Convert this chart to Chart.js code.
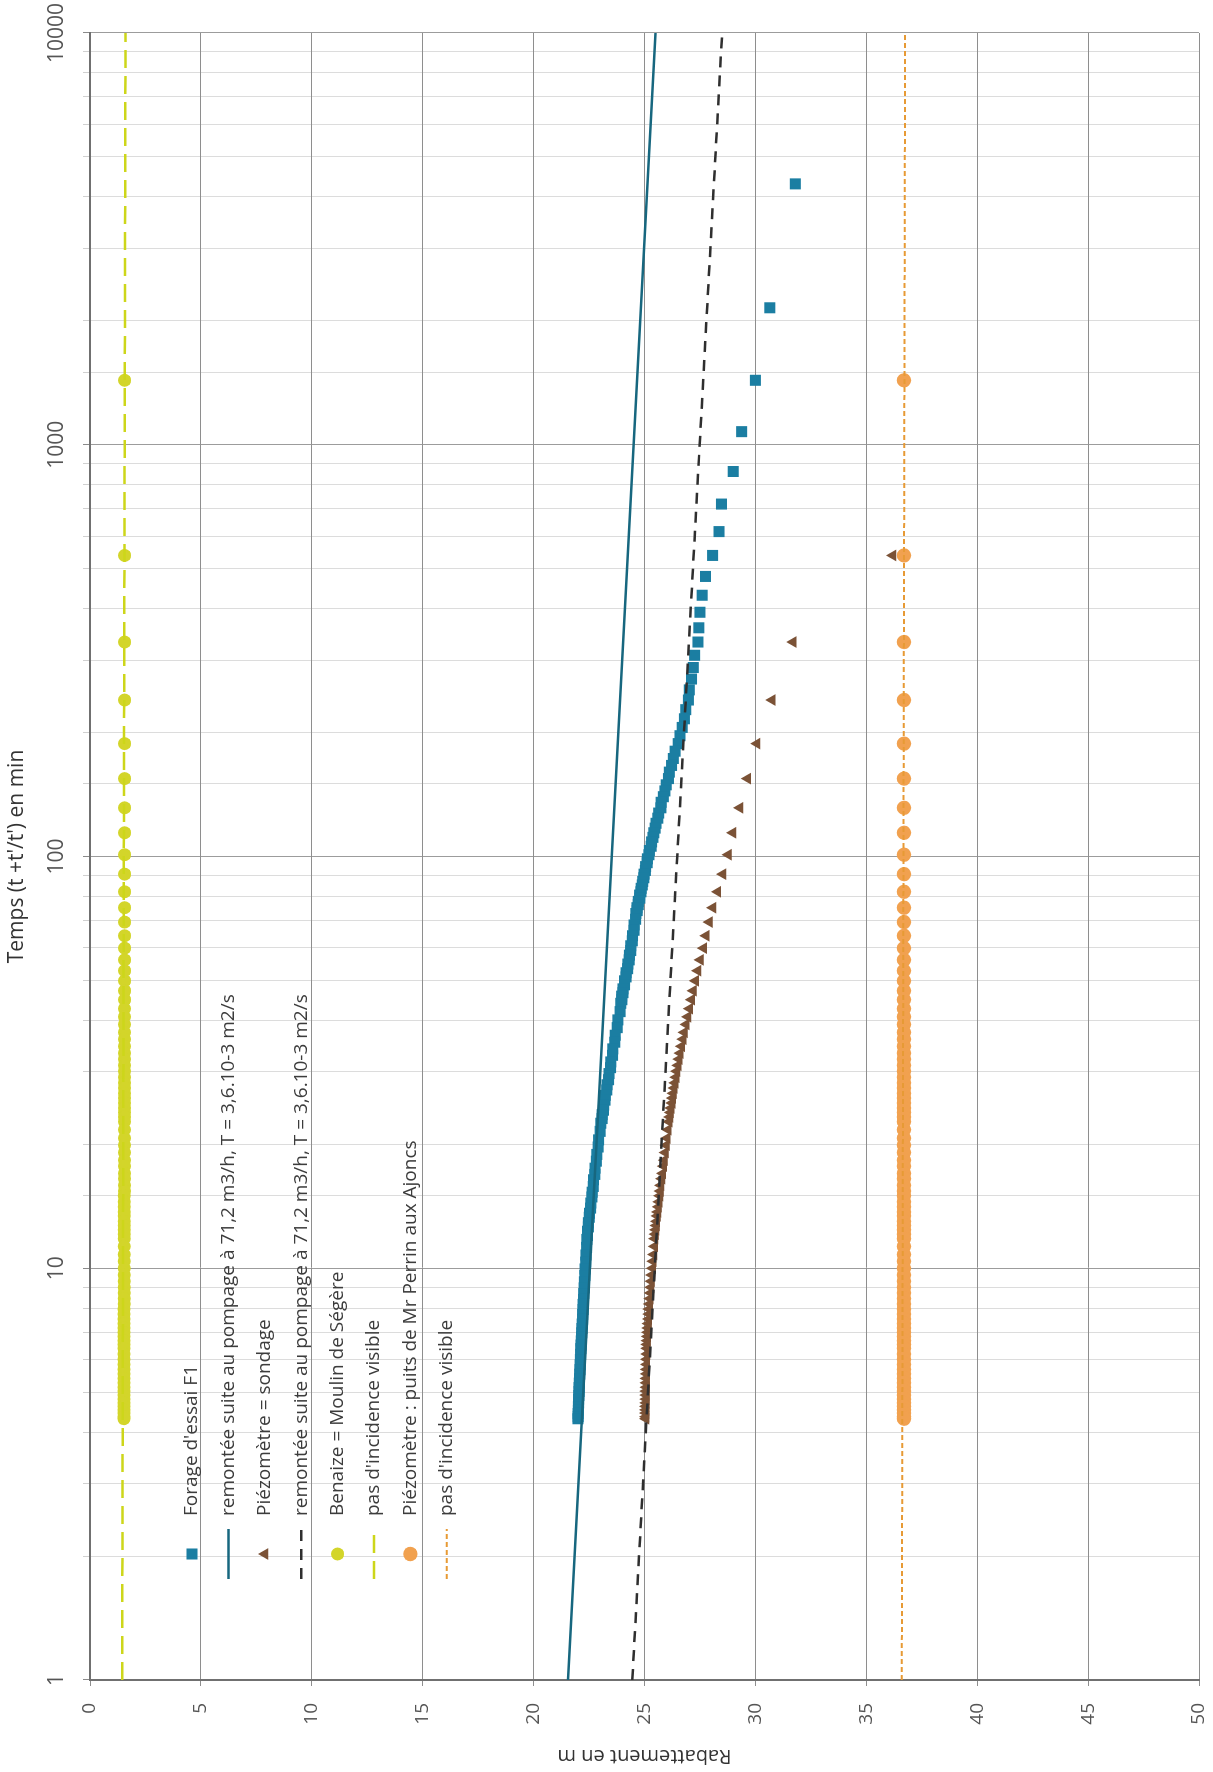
<!DOCTYPE html>
<html>
<head>
<meta charset="utf-8">
<script src="https://cdn.jsdelivr.net/npm/chart.js@4.4.1/dist/chart.umd.min.js"></script>
<style>
html,body{margin:0;padding:0;background:#fff;width:1213px;height:1772px;overflow:hidden;}
#wrap{position:relative;width:1213px;height:1772px;background:#fff;}
#c{position:absolute;left:0;top:0;transform-origin:0 0;transform:rotate(-90deg) translateX(-1772px);}
</style>
</head>
<body>
<div id="wrap"><canvas id="c" width="1772" height="1213"></canvas></div>
<script>
// ---- Tick labels ----
const timeTickLabels = ['1', '10', '100', '1000', '10000'];
const rabTicks = [0, 5, 10, 15, 20, 25, 30, 35, 40, 45, 50];

// ---- Forage d'essai F1 : temps (t+t'/t') and rabattement ----
const timeF1 = [
  4301, 2151, 1434, 1076, 861, 717.7, 615.3, 538.5, 478.8, 431,
  391.9, 359.3, 331.8, 308.1, 287.7, 269.8, 253.9, 239.9, 227.3, 216,
  205.8, 196.5, 188, 180.2, 173, 166.4, 160.3, 154.6, 149.3, 144.3,
  139.7, 135.4, 131.3, 127.5, 123.9, 120.4, 117.2, 114.2, 111.3, 108.5,
  105.9, 103.4, 101, 98.7, 96.6, 94.5, 92.5, 90.6, 88.8, 87,
  85.3, 83.7, 82.1, 80.6, 79.2, 77.8, 76.4, 75.1, 73.9, 72.7,
  70.4, 68.2, 66.2, 64.2, 62.4, 60.7, 59.1, 57.6, 56.1, 54.8,
  53.4, 52.2, 51, 49.9, 48.8, 47.7, 46.7, 45.8, 44.9, 44,
  42, 40.1, 38.4, 36.8, 35.4, 34.1, 32.9, 31.7, 30.7, 29.7,
  28.7, 27.9, 27.1, 26.3, 25.6, 24.9, 24.2, 23.6, 23.1, 22.5,
  21.5, 20.5, 19.7, 18.9, 18.2, 17.5, 16.9, 16.4, 15.8, 15.3,
  14.9, 14.4, 14.0, 13.6, 13.3, 12.9, 12.6, 12.3, 12.0, 11.75,
  11.24, 10.77, 10.35, 9.96, 9.6, 9.27, 8.96, 8.68, 8.41, 8.17,
  7.94, 7.72, 7.52, 7.32, 7.14, 6.97, 6.81, 6.66, 6.51, 6.38,
  6.18, 6.0, 5.83, 5.67, 5.53, 5.39, 5.26, 5.13, 5.02, 4.91,
  4.81, 4.71, 4.61, 4.52, 4.44, 4.36, 4.31
];
const rabF1 = [
  31.8, 30.65, 30.0, 29.38, 29.0, 28.47, 28.36, 28.07, 27.75, 27.6,
  27.5, 27.45, 27.41, 27.26, 27.2, 27.12, 27.02, 26.98, 26.86, 26.8,
  26.7, 26.6, 26.52, 26.38, 26.3, 26.22, 26.12, 26.08, 25.98, 25.92,
  25.85, 25.75, 25.74, 25.64, 25.6, 25.52, 25.48, 25.42, 25.38, 25.32,
  25.3, 25.22, 25.2, 25.13, 25.12, 25.05, 25.04, 24.98, 24.97, 24.92,
  24.9, 24.85, 24.84, 24.78, 24.79, 24.72, 24.72, 24.66, 24.67, 24.61,
  24.6, 24.53, 24.53, 24.46, 24.45, 24.38, 24.38, 24.32, 24.31, 24.25,
  24.24, 24.17, 24.17, 24.1, 24.1, 24.03, 24.03, 23.97, 23.98, 23.93,
  23.9, 23.8, 23.77, 23.68, 23.66, 23.57, 23.56, 23.48, 23.47, 23.4,
  23.38, 23.31, 23.3, 23.23, 23.22, 23.16, 23.15, 23.09, 23.09, 23.03,
  23.0, 22.93, 22.91, 22.85, 22.83, 22.77, 22.76, 22.7, 22.69, 22.64,
  22.63, 22.58, 22.57, 22.52, 22.51, 22.47, 22.47, 22.43, 22.43, 22.4,
  22.39, 22.36, 22.35, 22.32, 22.31, 22.29, 22.28, 22.26, 22.25, 22.23,
  22.23, 22.21, 22.21, 22.19, 22.18, 22.17, 22.16, 22.15, 22.14, 22.13,
  22.12, 22.11, 22.1, 22.09, 22.08, 22.07, 22.06, 22.05, 22.05, 22.04,
  22.03, 22.03, 22.02, 22.02, 22.01, 22.01, 22.0
];

// ---- Piézomètres : temps (t+t'/t') ----
const timePiezo = [
  1434, 538.5, 331.8, 239.9, 188, 154.6, 131.3, 114.2, 101, 90.6,
  82.1, 75.1, 69.3, 64.2, 59.9, 56.1, 52.8, 49.9, 47.2, 44.9,
  42.7, 40.8, 39.1, 37.4, 36.0, 34.6, 33.3, 32.2, 31.1, 30.1,
  29.1, 28.2, 27.4, 26.6, 25.9, 25.2, 24.5, 23.9, 23.3, 22.7,
  21.7, 20.7, 19.9, 19.1, 18.3, 17.7, 17.0, 16.5, 15.9, 15.4,
  15.0, 14.5, 14.1, 13.7, 13.4, 13.0, 12.7, 12.4, 12.1, 11.8,
  11.3, 10.8, 10.4, 10.0, 9.63, 9.30, 8.99, 8.71, 8.44, 8.19,
  7.96, 7.74, 7.53, 7.34, 7.16, 6.99, 6.83, 6.67, 6.53, 6.39,
  6.19, 6.01, 5.84, 5.68, 5.54, 5.40, 5.27, 5.14, 5.03, 4.92,
  4.81, 4.71, 4.62, 4.53, 4.45, 4.36, 4.31
];
// Piézomètre = sondage
const rabSondage = [
  null, 36.2, 31.7, 30.75, 30.07, 29.65, 29.3, 28.98, 28.78, 28.53,
  28.3, 28.08, 27.92, 27.78, 27.66, 27.52, 27.4, 27.3, 27.2, 27.12,
  27.03, 26.95, 26.88, 26.8, 26.74, 26.67, 26.61, 26.56, 26.51, 26.46,
  26.42, 26.38, 26.34, 26.3, 26.27, 26.24, 26.2, 26.17, 26.14, 26.11,
  26.06, 26.02, 25.98, 25.94, 25.9, 25.86, 25.82, 25.78, 25.74, 25.71,
  25.69, 25.66, 25.63, 25.6, 25.58, 25.55, 25.53, 25.51, 25.49, 25.47,
  25.45, 25.42, 25.39, 25.36, 25.33, 25.31, 25.29, 25.27, 25.25, 25.23,
  25.21, 25.2, 25.19, 25.17, 25.16, 25.15, 25.14, 25.13, 25.12, 25.11,
  25.11, 25.1, 25.1, 25.09, 25.09, 25.08, 25.08, 25.08, 25.07, 25.07,
  25.07, 25.07, 25.06, 25.06, 25.06, 25.06, 25.06
];
// Benaize = Moulin de Ségère
const rabBenaize = [
  1.56, 1.56, 1.56, 1.56, 1.56, 1.56, 1.56, 1.56, 1.56, 1.56,
  1.56, 1.56, 1.56, 1.56, 1.56, 1.56, 1.56, 1.56, 1.56, 1.56,
  1.55, 1.55, 1.55, 1.55, 1.55, 1.55, 1.55, 1.55, 1.55, 1.55,
  1.55, 1.55, 1.55, 1.55, 1.55, 1.55, 1.55, 1.55, 1.55, 1.55,
  1.55, 1.55, 1.55, 1.55, 1.55, 1.55, 1.55, 1.55, 1.55, 1.55,
  1.54, 1.54, 1.54, 1.54, 1.54, 1.54, 1.54, 1.54, 1.54, 1.54,
  1.54, 1.54, 1.54, 1.54, 1.54, 1.54, 1.54, 1.54, 1.54, 1.54,
  1.53, 1.53, 1.53, 1.53, 1.53, 1.53, 1.53, 1.53, 1.53, 1.53,
  1.53, 1.53, 1.53, 1.53, 1.53, 1.53, 1.53, 1.53, 1.53, 1.53,
  1.53, 1.53, 1.53, 1.53, 1.53, 1.53, 1.53
];
// Piézomètre : puits de Mr Perrin aux Ajoncs
const rabPerrin = [
  36.7, 36.7, 36.7, 36.7, 36.7, 36.7, 36.7, 36.7, 36.7, 36.7,
  36.7, 36.7, 36.7, 36.7, 36.7, 36.7, 36.7, 36.7, 36.7, 36.7,
  36.7, 36.7, 36.7, 36.7, 36.7, 36.7, 36.7, 36.7, 36.7, 36.7,
  36.7, 36.7, 36.7, 36.7, 36.7, 36.7, 36.7, 36.7, 36.7, 36.7,
  36.7, 36.7, 36.7, 36.7, 36.7, 36.7, 36.7, 36.7, 36.7, 36.7,
  36.7, 36.7, 36.7, 36.7, 36.7, 36.7, 36.7, 36.7, 36.7, 36.7,
  36.7, 36.7, 36.7, 36.7, 36.7, 36.7, 36.7, 36.7, 36.7, 36.7,
  36.7, 36.7, 36.7, 36.7, 36.7, 36.7, 36.7, 36.7, 36.7, 36.7,
  36.7, 36.7, 36.7, 36.7, 36.7, 36.7, 36.7, 36.7, 36.7, 36.7,
  36.7, 36.7, 36.7, 36.7, 36.7, 36.7, 36.7
];

// ---- Droites d'interprétation (extrémités) ----
const lineTimes = [1, 10000];
const lineF1 = [21.55, 25.5];
const lineSondage = [24.45, 28.5];
const lineBenaize = [1.45, 1.6];
const linePerrin = [36.6, 36.75];

// ---- Legend labels ----
const legendLabels = [
  "Forage d'essai F1",
  "remontée suite au pompage à 71,2 m3/h, T = 3,6.10-3 m2/s",
  "Piézomètre = sondage",
  "remontée suite au pompage à 71,2 m3/h, T = 3,6.10-3 m2/s",
  "Benaize = Moulin de Ségère",
  "pas d'incidence visible",
  "Piézomètre : puits de Mr Perrin aux Ajoncs",
  "pas d'incidence visible"
];

const COL_F1 = '#1b7ea2';
const COL_F1_LINE = '#17677f';
const COL_SOND = '#7b5236';
const COL_DASH = '#2f2f2f';
const COL_YEL = '#d3d52a';
const COL_YEL_LINE = '#cdd61a';
const COL_ORA = '#f1a14f';
const COL_ORA_LINE = '#e79a35';

function pts(xs, ys) { return xs.map((x, i) => ({ x: x, y: ys[i] })); }
function isMajor(v) { const l = Math.log10(v); return Math.abs(l - Math.round(l)) < 1e-9; }

const datasets = [
  { label: legendLabels[0], data: pts(timeF1, rabF1), pointStyle: 'rect', pointRadius: 7.8, pointHoverRadius: 7.8,
    backgroundColor: COL_F1, borderColor: COL_F1, borderWidth: 0, showLine: false, order: 8,
    lg: { kind: 'point', style: 'rect', r: 7.8, color: COL_F1 } },
  { label: legendLabels[1], data: pts(lineTimes, lineF1), showLine: true, pointRadius: 0, borderColor: COL_F1_LINE,
    borderWidth: 2.5, fill: false, order: 7, lg: { kind: 'line', color: COL_F1_LINE, width: 2.5, dash: [] } },
  { label: legendLabels[2], data: pts(timePiezo, rabSondage), pointStyle: 'triangle', pointRadius: 6.8, pointHoverRadius: 6.8,
    backgroundColor: COL_SOND, borderColor: COL_SOND, borderWidth: 0, showLine: false, order: 6,
    lg: { kind: 'point', style: 'triangle', r: 6.8, color: COL_SOND } },
  { label: legendLabels[3], data: pts(lineTimes, lineSondage), showLine: true, pointRadius: 0, borderColor: COL_DASH,
    borderWidth: 2.5, borderDash: [11, 8], fill: false, order: 5, lg: { kind: 'line', color: COL_DASH, width: 2.5, dash: [11, 8] } },
  { label: legendLabels[4], data: pts(timePiezo, rabBenaize), pointStyle: 'circle', pointRadius: 6.5, pointHoverRadius: 6.5,
    backgroundColor: COL_YEL, borderColor: COL_YEL, borderWidth: 0, showLine: false, order: 4,
    lg: { kind: 'point', style: 'circle', r: 6.5, color: COL_YEL } },
  { label: legendLabels[5], data: pts(lineTimes, lineBenaize), showLine: true, pointRadius: 0, borderColor: COL_YEL_LINE,
    borderWidth: 2.5, borderDash: [18, 8], fill: false, order: 3, lg: { kind: 'line', color: COL_YEL_LINE, width: 2.5, dash: [18, 8] } },
  { label: legendLabels[6], data: pts(timePiezo, rabPerrin), pointStyle: 'circle', pointRadius: 7.2, pointHoverRadius: 7.2,
    backgroundColor: COL_ORA, borderColor: COL_ORA, borderWidth: 0, showLine: false, order: 2,
    lg: { kind: 'point', style: 'circle', r: 7.2, color: COL_ORA } },
  { label: legendLabels[7], data: pts(lineTimes, linePerrin), showLine: true, pointRadius: 0, borderColor: COL_ORA_LINE,
    borderWidth: 2, borderDash: [5, 3], fill: false, order: 1, lg: { kind: 'line', color: COL_ORA_LINE, width: 2, dash: [5, 3] } }
];

const legendPlugin = {
  id: 'insideLegend',
  afterDatasetsDraw(chart) {
    const ctx = chart.ctx;
    const y0 = 192, step = 36.4, cx = 218, lx0 = 193, lx1 = 243, tx = 256;
    ctx.save();
    chart.data.datasets.forEach((ds, i) => {
      const y = y0 + i * step;
      const g = ds.lg;
      if (g.kind === 'point') {
        ctx.fillStyle = g.color;
        ctx.beginPath();
        if (g.style === 'rect') {
          const s = Math.SQRT1_2 * g.r;
          ctx.rect(cx - s, y - s, 2 * s, 2 * s);
        } else if (g.style === 'triangle') {
          let rad = 0;
          ctx.moveTo(cx + Math.sin(rad) * g.r, y - Math.cos(rad) * g.r);
          rad += 2 * Math.PI / 3;
          ctx.lineTo(cx + Math.sin(rad) * g.r, y - Math.cos(rad) * g.r);
          rad += 2 * Math.PI / 3;
          ctx.lineTo(cx + Math.sin(rad) * g.r, y - Math.cos(rad) * g.r);
          ctx.closePath();
        } else {
          ctx.arc(cx, y, g.r, 0, Math.PI * 2);
        }
        ctx.fill();
      } else {
        ctx.strokeStyle = g.color;
        ctx.lineWidth = g.width;
        ctx.setLineDash(g.dash);
        ctx.beginPath();
        ctx.moveTo(lx0, y);
        ctx.lineTo(lx1, y);
        ctx.stroke();
        ctx.setLineDash([]);
      }
      ctx.fillStyle = '#3c3c3c';
      ctx.font = '19px "Open Sans", sans-serif';
      ctx.textAlign = 'left';
      ctx.textBaseline = 'middle';
      ctx.fillText(ds.label, tx, y);
    });
    ctx.restore();
  }
};

const fontFam = '"Open Sans", sans-serif';

new Chart(document.getElementById('c'), {
  type: 'scatter',
  data: { datasets: datasets },
  plugins: [legendPlugin],
  options: {
    responsive: false,
    animation: false,
    devicePixelRatio: 1,
    layout: { padding: { left: 0, top: 0, right: 33, bottom: 14 } },
    plugins: { legend: { display: false }, tooltip: { enabled: false } },
    elements: { line: { tension: 0 } },
    scales: {
      x: {
        type: 'logarithmic',
        position: 'top',
        min: 1,
        max: 10000,
        afterFit: (s) => { s.height = 90; s.paddingLeft = 0; s.paddingRight = 0; s.paddingTop = 0; s.paddingBottom = 0; },
        grid: {
          color: (c) => (c.tick && isMajor(c.tick.value)) ? '#9c9c9c' : '#dcdcdc',
          tickColor: (c) => (c.tick && isMajor(c.tick.value)) ? '#8a8a8a' : '#d0d0d0',
          lineWidth: 1,
          tickLength: 7
        },
        border: { color: '#707070', width: 2 },
        ticks: {
          autoSkip: false,
          maxRotation: 0,
          minRotation: 0,
          padding: 13,
          color: '#555',
          font: { family: fontFam, size: 21 },
          callback: (v) => {
            if (!isMajor(v)) return '';
            const lbl = String(Math.round(v));
            return timeTickLabels.includes(lbl) ? lbl : '';
          }
        },
        title: {
          display: true,
          text: "Temps (t +t'/t') en min",
          color: '#333',
          font: { family: fontFam, size: 21 },
          padding: { top: 4, bottom: 0 }
        }
      },
      y: {
        type: 'linear',
        position: 'left',
        reverse: true,
        min: 0,
        max: 50,
        afterFit: (s) => { s.width = 92; s.paddingLeft = 0; s.paddingRight = 0; s.paddingTop = 0; s.paddingBottom = 0; },
        afterBuildTicks: (s) => { s.ticks = rabTicks.map(v => ({ value: v })); },
        grid: { color: '#8e8e8e', tickColor: '#8e8e8e', lineWidth: 1, tickLength: 6 },
        border: { color: '#707070', width: 2 },
        ticks: {
          stepSize: 5,
          padding: 17,
          color: '#555',
          font: { family: fontFam, size: 19 }
        },
        title: {
          display: true,
          text: 'Rabattement en m',
          color: '#333',
          font: { family: fontFam, size: 20 },
          padding: { top: 4, bottom: 0 }
        }
      }
    }
  }
});
</script>
</body>
</html>
